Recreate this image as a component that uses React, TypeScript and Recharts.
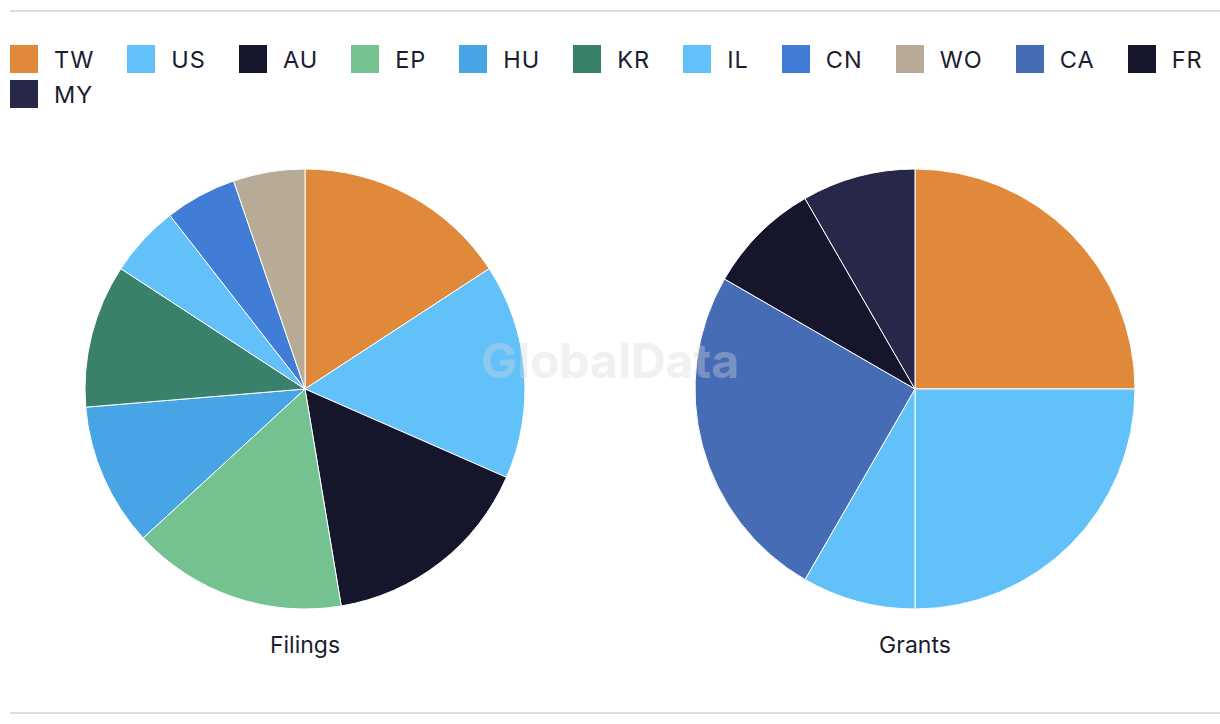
import React from 'react';
import { PieChart, Pie, Cell } from 'recharts';

const legendCodes = ['TW', 'US', 'AU', 'EP', 'HU', 'KR', 'IL', 'CN', 'WO', 'CA', 'FR', 'MY'];
const legendColors = ['#E0893A', '#62C1F8', '#15162B', '#73C290', '#47A5E5', '#3A816B', '#62C1F8', '#417DD6', '#B7AA96', '#466CB5', '#15162B', '#272849'];

const filingsCodes = ['TW', 'US', 'AU', 'EP', 'HU', 'KR', 'IL', 'CN', 'WO'];
const filingsValues = [3, 3, 3, 3, 2, 2, 1, 1, 1];

const grantsCodes = ['TW', 'US', 'IL', 'CA', 'FR', 'MY'];
const grantsValues = [3, 3, 1, 3, 1, 1];

const colorOf = (code: string) => legendColors[legendCodes.indexOf(code)];

const filingsData = filingsCodes.map((c, i) => ({ name: c, value: filingsValues[i] }));
const grantsData = grantsCodes.map((c, i) => ({ name: c, value: grantsValues[i] }));

const font = 'Inter, "Noto Sans", sans-serif';
const textColor = '#1b1d30';

export default function App() {
  return (
    <div style={{ position: 'absolute', left: 0, top: 0, width: 1220, height: 724, background: '#fff', fontFamily: font, overflow: 'hidden' }}>
      <div style={{ position: 'absolute', left: 10, right: 0, top: 10, height: 2, background: '#dddddd' }} />
      <div style={{ position: 'absolute', left: 10, right: 0, top: 712, height: 2, background: '#dddddd' }} />

      {/* legend row runs a bit past the right edge so FR stays on the first line */}
      <div style={{ position: 'absolute', left: 10, top: 45, width: 1250, display: 'flex', flexWrap: 'wrap', rowGap: 7 }}>
        {legendCodes.map((code, i) => (
          <div key={code} style={{ display: 'flex', alignItems: 'center', marginRight: 33, height: 28 }}>
            <div style={{ width: 28, height: 28, background: legendColors[i], marginRight: 16 }} />
            <span style={{ fontSize: 23.5, letterSpacing: 1, color: textColor }}>{code}</span>
          </div>
        ))}
      </div>

      <div style={{ position: 'absolute', left: 0, top: 0 }}>
        <PieChart width={1220} height={724} margin={{ top: 0, right: 0, bottom: 0, left: 0 }}>
          <Pie data={filingsData} dataKey="value" nameKey="name" cx={305} cy={389} outerRadius={220}
            startAngle={90} endAngle={-270} stroke="#ffffff" strokeWidth={1} isAnimationActive={false}>
            {filingsData.map(d => <Cell key={d.name} fill={colorOf(d.name)} />)}
          </Pie>
          <Pie data={grantsData} dataKey="value" nameKey="name" cx={915} cy={389} outerRadius={220}
            startAngle={90} endAngle={-270} stroke="#ffffff" strokeWidth={1} isAnimationActive={false}>
            {grantsData.map(d => <Cell key={d.name} fill={colorOf(d.name)} />)}
          </Pie>
        </PieChart>
      </div>

      <div style={{ position: 'absolute', left: 0, width: 1220, top: 331, textAlign: 'center', fontSize: 48, fontWeight: 700, color: '#d9d9d9', opacity: 0.35, pointerEvents: 'none' }}>
        GlobalData
      </div>

      <div style={{ position: 'absolute', left: 205, width: 200, top: 631, textAlign: 'center', fontSize: 23, color: textColor }}>Filings</div>
      <div style={{ position: 'absolute', left: 815, width: 200, top: 631, textAlign: 'center', fontSize: 23, color: textColor }}>Grants</div>
    </div>
  );
}
